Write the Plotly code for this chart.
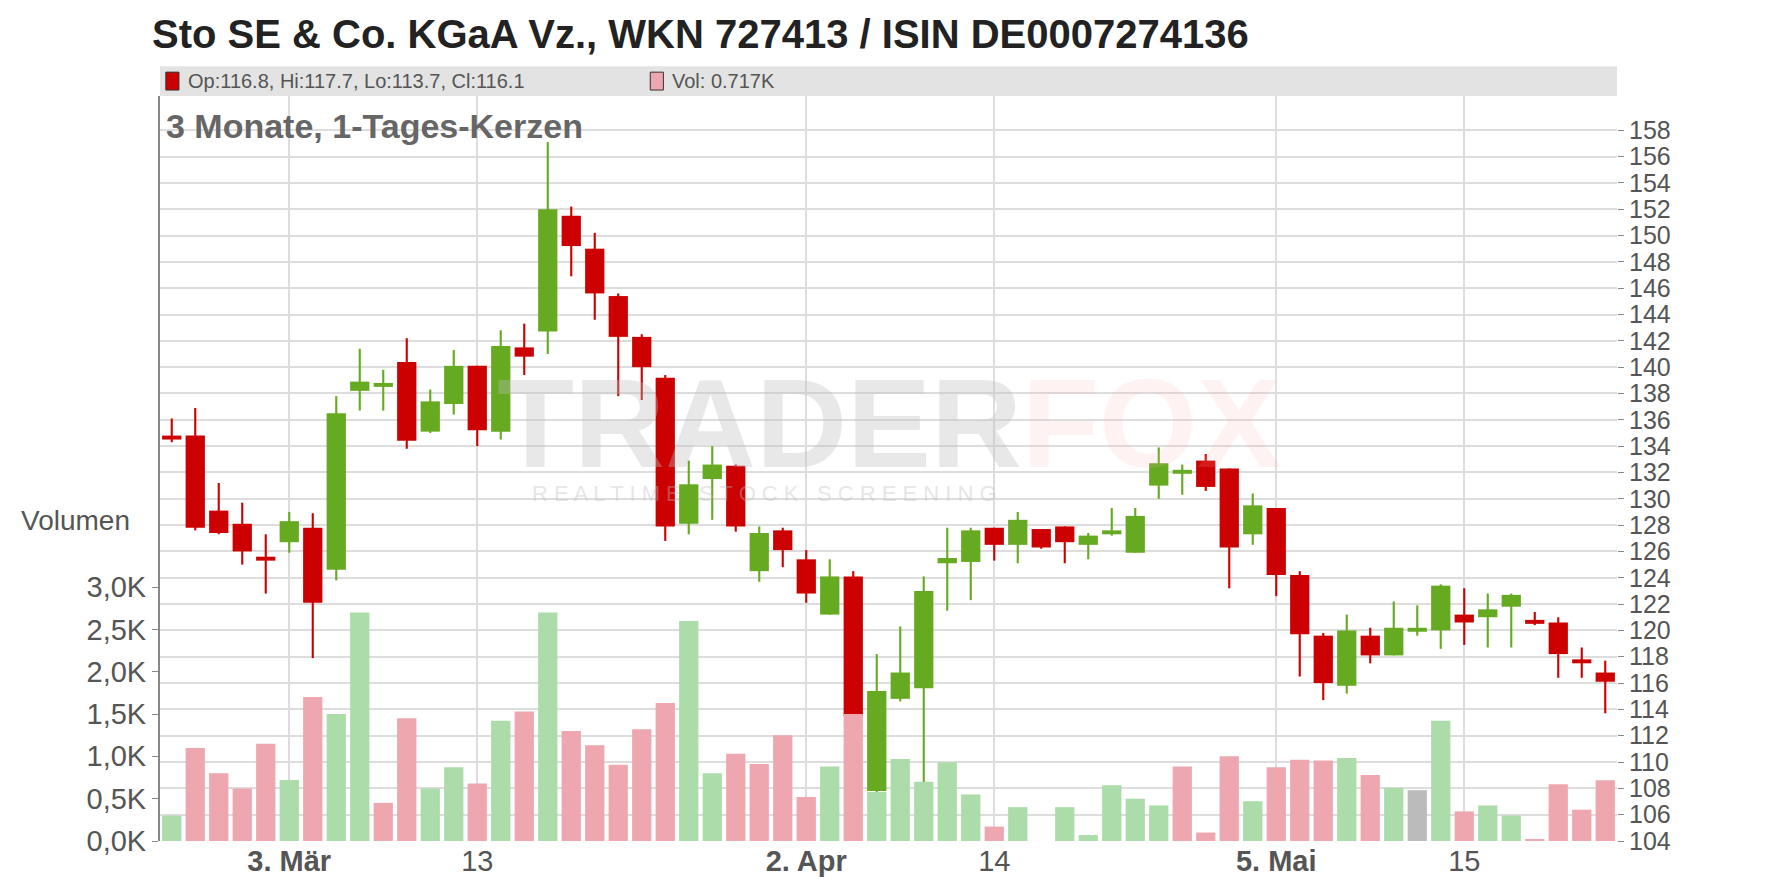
import plotly.graph_objects as go

# trading days (Xetra calendar, 24 Feb - 23 May)
dates = [
    "02-24", "02-25", "02-26", "02-27", "02-28",
    "03-03", "03-04", "03-05", "03-06", "03-07",
    "03-10", "03-11", "03-12", "03-13", "03-14",
    "03-17", "03-18", "03-19", "03-20", "03-21",
    "03-24", "03-25", "03-26", "03-27", "03-28",
    "03-31", "04-01", "04-02", "04-03", "04-04",
    "04-07", "04-08", "04-09", "04-10", "04-11",
    "04-14", "04-15", "04-16", "04-17",
    "04-22", "04-23", "04-24", "04-25",
    "04-28", "04-29", "04-30", "05-02",
    "05-05", "05-06", "05-07", "05-08", "05-09",
    "05-12", "05-13", "05-14", "05-15", "05-16",
    "05-19", "05-20", "05-21", "05-22", "05-23",
]
opens = [134.8, 134.8, 129.1, 128.1, 125.6, 126.7, 127.8, 124.6, 138.2, 138.5,
         140.4, 135.1, 137.2, 140.1, 135.1, 141.5, 142.7, 151.5, 149.0, 145.4,
         142.3, 139.2, 128.1, 131.5, 132.5, 124.5, 127.6, 125.4, 121.2, 124.1,
         107.8, 114.8, 115.6, 125.1, 125.2, 127.8, 126.5, 127.7, 127.9, 126.5,
         127.3, 125.9, 131.0, 131.9, 132.9, 132.3, 127.3, 129.3, 124.2, 119.6,
         115.8, 119.6, 118.1, 119.9, 120.0, 121.2, 121.0, 121.8, 120.8, 120.6,
         117.7, 116.8]
highs = [136.1, 136.9, 131.2, 129.7, 127.3, 129.0, 128.9, 137.8, 141.4, 139.8,
         142.2, 138.3, 141.3, 140.1, 142.8, 143.3, 157.1, 152.2, 150.2, 145.6,
         142.5, 139.4, 132.9, 134.0, 132.6, 127.9, 127.8, 126.1, 125.4, 124.5,
         118.2, 120.3, 124.1, 127.8, 127.8, 127.8, 129.0, 127.7, 127.9, 127.4,
         129.3, 129.3, 133.9, 132.6, 133.4, 132.3, 130.4, 129.3, 124.5, 119.8,
         121.2, 120.2, 122.2, 121.9, 123.5, 123.2, 122.8, 122.8, 121.4, 121.0,
         118.7, 117.7]
lows = [134.3, 127.6, 127.3, 125.0, 122.8, 125.9, 117.9, 123.8, 136.7, 136.7,
        133.8, 135.0, 136.4, 134.0, 134.5, 139.4, 141.0, 146.9, 143.6, 137.8,
        137.5, 126.8, 127.3, 128.4, 127.5, 123.7, 124.8, 122.1, 121.2, 111.3,
        107.5, 114.6, 108.3, 121.5, 122.3, 125.3, 125.1, 126.2, 125.1, 125.4,
        127.2, 125.9, 130.0, 130.3, 130.6, 123.2, 126.5, 122.6, 116.5, 114.7,
        115.2, 117.5, 118.1, 119.6, 118.6, 118.9, 118.7, 118.7, 120.4, 116.4,
        116.4, 113.7]
closes = [134.5, 127.8, 127.4, 126.0, 125.3, 128.3, 122.1, 136.5, 138.9, 138.8,
          134.4, 137.4, 140.1, 135.2, 141.6, 140.8, 152.0, 149.2, 145.6, 142.3,
          140.0, 127.9, 131.1, 132.6, 127.9, 127.4, 126.1, 122.8, 124.1, 113.5,
          115.4, 116.8, 123.0, 125.5, 127.6, 126.5, 128.4, 126.3, 126.7, 127.2,
          127.4, 128.7, 132.7, 132.0, 130.9, 126.3, 129.5, 124.2, 119.7, 116.0,
          120.0, 118.1, 120.2, 120.2, 123.4, 120.6, 121.6, 122.7, 120.5, 118.2,
          117.5, 116.1]
volumes = [0.30, 1.10, 0.80, 0.62, 1.15, 0.72, 1.70, 1.50, 2.70, 0.45,
           1.45, 0.62, 0.87, 0.68, 1.42, 1.53, 2.70, 1.30, 1.13, 0.90,
           1.32, 1.63, 2.60, 0.80, 1.03, 0.91, 1.25, 0.52, 0.88, 1.50,
           0.58, 0.97, 0.70, 0.93, 0.55, 0.17, 0.40, 0.00, 0.40, 0.07,
           0.66, 0.50, 0.42, 0.88, 0.10, 1.00, 0.47, 0.87, 0.96, 0.95,
           0.98, 0.78, 0.63, 0.60, 1.42, 0.35, 0.42, 0.30, 0.02, 0.67,
           0.37, 0.717]

tick_dates = ["03-03", "03-13", "04-02", "04-14", "05-05", "05-15"]
tick_labels = ["<b>3. Mär</b>", "13", "<b>2. Apr</b>", "14", "<b>5. Mai</b>", "15"]
price_ticks = list(range(104, 160, 2))
vol_ticks = [0, 0.5, 1.0, 1.5, 2.0, 2.5, 3.0]
vol_labels = ["0,0K", "0,5K", "1,0K", "1,5K", "2,0K", "2,5K", "3,0K"]

RED, GREEN = "#cc0000", "#66aa22"
VRED, VGREEN, VGRAY = "#eea7ae", "#acdca9", "#bbbbbb"

# volume colour follows close vs previous close
vcol = []
for i, c in enumerate(closes):
    if i == 0 or c > closes[i - 1]:
        vcol.append(VGREEN)
    elif c < closes[i - 1]:
        vcol.append(VRED)
    else:
        vcol.append(VGRAY)

ccol = [GREEN if c >= o else RED for o, c in zip(opens, closes)]
body_base = [min(o, c) for o, c in zip(opens, closes)]
body_h = [max(abs(c - o), 0.3) for o, c in zip(opens, closes)]
wick_h = [h - l for h, l in zip(highs, lows)]

fig = go.Figure()
fig.add_trace(go.Bar(x=dates, y=volumes, marker_color=vcol, marker_line_width=0,
                     width=0.82, yaxis="y2", hoverinfo="skip"))
fig.add_trace(go.Bar(x=dates, y=wick_h, base=lows, marker_color=ccol,
                     marker_line_width=0, width=0.09, yaxis="y"))
fig.add_trace(go.Bar(x=dates, y=body_h, base=body_base, marker_color=ccol,
                     marker_line_width=0, width=0.82, yaxis="y"))

font = "Liberation Sans, Arial, sans-serif"
fig.update_layout(
    width=1776, height=888, barmode="overlay", showlegend=False,
    paper_bgcolor="white", plot_bgcolor="white",
    margin=dict(l=152, r=167, t=88, b=55),
    font=dict(family=font, color="#555555"),
    xaxis=dict(type="category", categoryorder="array", categoryarray=dates,
               range=[-0.5, len(dates) - 0.5],
               tickvals=tick_dates, ticktext=tick_labels,
               showgrid=True, gridcolor="#dddddd", gridwidth=1.5,
               tickfont=dict(size=29, color="#555555"), ticks="",
               showline=False, zeroline=False),
    yaxis=dict(side="right", range=[104, 160.6], tickvals=price_ticks,
               showgrid=True, gridcolor="#dddddd", gridwidth=1.5,
               tickfont=dict(size=25, color="#555555"), ticks="outside",
               ticklen=6, tickcolor="#888888", zeroline=False, showline=False),
    yaxis2=dict(overlaying="y", side="left", range=[0, 8.8],
                tickvals=vol_ticks, ticktext=vol_labels, showgrid=False,
                tickfont=dict(size=29, color="#555555"), ticks="outside",
                ticklen=6, tickcolor="#888888", zeroline=False,
                showline=True, linecolor="#888888", linewidth=2),
    shapes=[
        dict(type="rect", xref="paper", yref="paper", x0=0, x1=1, y0=1, y1=1.04,
             fillcolor="#e3e3e3", line_width=0, layer="below"),
        dict(type="rect", xref="paper", yref="paper", x0=0.004, x1=0.013,
             y0=1.008, y1=1.032, fillcolor=RED, line=dict(color="#333", width=1)),
        dict(type="rect", xref="paper", yref="paper", x0=0.3365, x1=0.3455,
             y0=1.008, y1=1.032, fillcolor=VRED, line=dict(color="#333", width=1)),
    ],
    annotations=[
        dict(text="<b>Sto SE & Co. KGaA Vz., WKN 727413 / ISIN DE0007274136</b>",
             xref="paper", yref="paper", x=-0.007, y=1.083, xanchor="left", yanchor="middle",
             showarrow=False, font=dict(size=40, color="#222222")),
        dict(text="Op:116.8, Hi:117.7, Lo:113.7, Cl:116.1", xref="paper", yref="paper",
             x=0.018, y=1.02, xanchor="left", yanchor="middle", showarrow=False,
             font=dict(size=20, color="#555555")),
        dict(text="Vol: 0.717K", xref="paper", yref="paper", x=0.35, y=1.02,
             xanchor="left", yanchor="middle", showarrow=False,
             font=dict(size=20, color="#555555")),
        dict(text="<b>3 Monate, 1-Tages-Kerzen</b>", xref="paper", yref="paper",
             x=0.003, y=0.96, xanchor="left", yanchor="middle", showarrow=False,
             font=dict(size=34, color="#666666")),
        dict(text="Volumen", xref="paper", yref="paper", x=-0.097, y=0.43,
             xanchor="left", yanchor="middle", showarrow=False,
             font=dict(size=28, color="#555555")),
        dict(text="<b>TRADER<span style='color:rgba(255,170,180,0.45)'>FOX</span></b>",
             xref="paper", yref="paper", x=0.5, y=0.56, xanchor="center",
             yanchor="middle", showarrow=False,
             font=dict(size=126, color="rgba(190,190,190,0.35)")),
        dict(text="R E A L T I M E   S T O C K   S C R E E N I N G",
             xref="paper", yref="paper", x=0.415, y=0.466, xanchor="center",
             yanchor="middle", showarrow=False,
             font=dict(size=22, color="rgba(190,190,190,0.4)")),
    ],
)

fig.write_html("out.html")
